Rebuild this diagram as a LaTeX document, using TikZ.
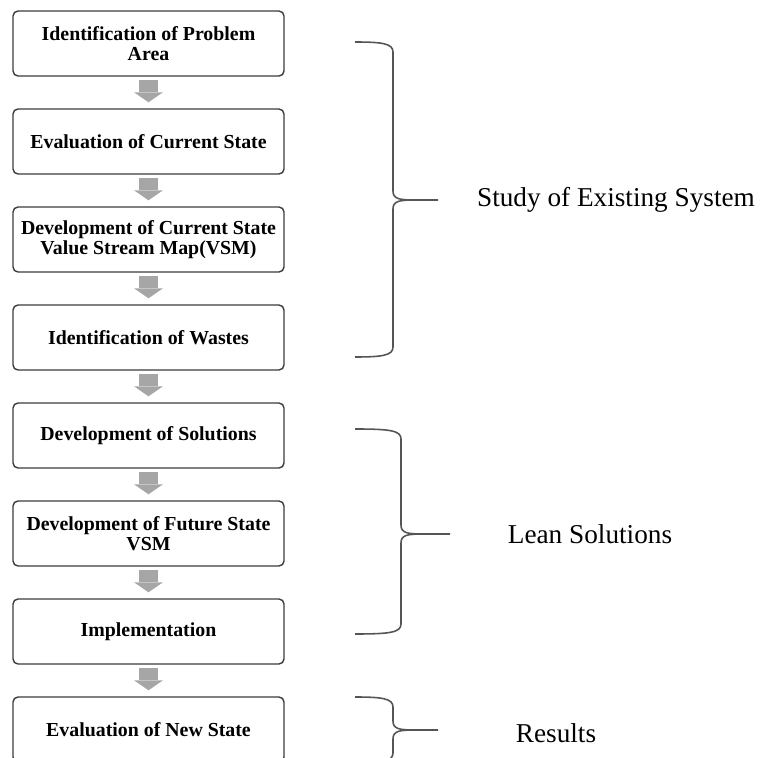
\documentclass[tikz,border=0pt]{standalone}
\usepackage{fontspec}
\setmainfont{Liberation Serif}
\usetikzlibrary{arrows.meta}
\definecolor{arrowgray}{HTML}{A6A6A6}
\definecolor{edgegray}{HTML}{3C3C3C}
\definecolor{bracegray}{HTML}{555555}
\newcommand{\groupbrace}[5]{%
	\draw[bracket] (7.1,#2) .. controls (#1-0.22,#2) and (#1,#2-0.03) .. (#1,#2-0.2) -- (#1,#3+0.18)
		.. controls (#1,#3+0.02) and (#1+0.12,#3) .. (#1+0.45,#3) -- (#5,#3);
	\draw[bracket] (7.1,#4) .. controls (#1-0.22,#4) and (#1,#4+0.03) .. (#1,#4+0.2) -- (#1,#3-0.18)
		.. controls (#1,#3-0.02) and (#1+0.12,#3) .. (#1+0.45,#3);
}
\begin{document}
\begin{tikzpicture}[
	box/.style={draw=edgegray, line width=0.8pt, rounded corners=0.1cm, minimum width=5.42cm,
		minimum height=1.3cm, align=center, inner sep=1pt, font=\fontsize{11.3}{11.6}\selectfont\bfseries},
	flowarrow/.style={line width=0.37cm, arrowgray, -{Triangle[width=0.58cm, length=0.2cm, line width=0pt]}},
	bracket/.style={bracegray, line width=0.9pt},
	group/.style={font=\fontsize{15.5}{18}\selectfont}
	]
	\clip (0,0) rectangle (15.2,-15.16);
	\node[box] (a) at (2.97, -0.87) {Identification of Problem\\Area};
	\node[box] (b) at (2.97, -2.83) {Evaluation of Current State};
	\node[box] (c) at (2.97, -4.79) {Development of Current State\\Value Stream Map(VSM)};
	\node[box] (d) at (2.97, -6.75) {Identification of Wastes};
	\node[box] (e) at (2.97, -8.71) {Development of Solutions};
	\node[box] (f) at (2.97, -10.67) {Development of Future State\\VSM};
	\node[box] (g) at (2.97, -12.63) {Implementation};
	\node[box] (h) at (2.97, -14.59) {Evaluation of New State};
	\draw[flowarrow] ([yshift=-0.06cm]a.south) -- ([yshift=0.12cm]b.north);
	\draw[flowarrow] ([yshift=-0.06cm]b.south) -- ([yshift=0.12cm]c.north);
	\draw[flowarrow] ([yshift=-0.06cm]c.south) -- ([yshift=0.12cm]d.north);
	\draw[flowarrow] ([yshift=-0.06cm]d.south) -- ([yshift=0.12cm]e.north);
	\draw[flowarrow] ([yshift=-0.06cm]e.south) -- ([yshift=0.12cm]f.north);
	\draw[flowarrow] ([yshift=-0.06cm]f.south) -- ([yshift=0.12cm]g.north);
	\draw[flowarrow] ([yshift=-0.06cm]g.south) -- ([yshift=0.12cm]h.north);
	% braces and group names
	\groupbrace{7.86}{-0.84}{-4.0}{-7.14}{8.76}
	\groupbrace{8.02}{-8.58}{-10.68}{-12.68}{9.0}
	\groupbrace{7.86}{-13.94}{-14.6}{-15.26}{8.76}
	\node[group] (s) at (12.32, -4.0) {Study of Existing System};
	\node[group] (l) at (11.8, -10.68) {Lean Solutions};
	\node[group] (r) at (11.12, -14.66) {Results};
\end{tikzpicture}
\end{document}
